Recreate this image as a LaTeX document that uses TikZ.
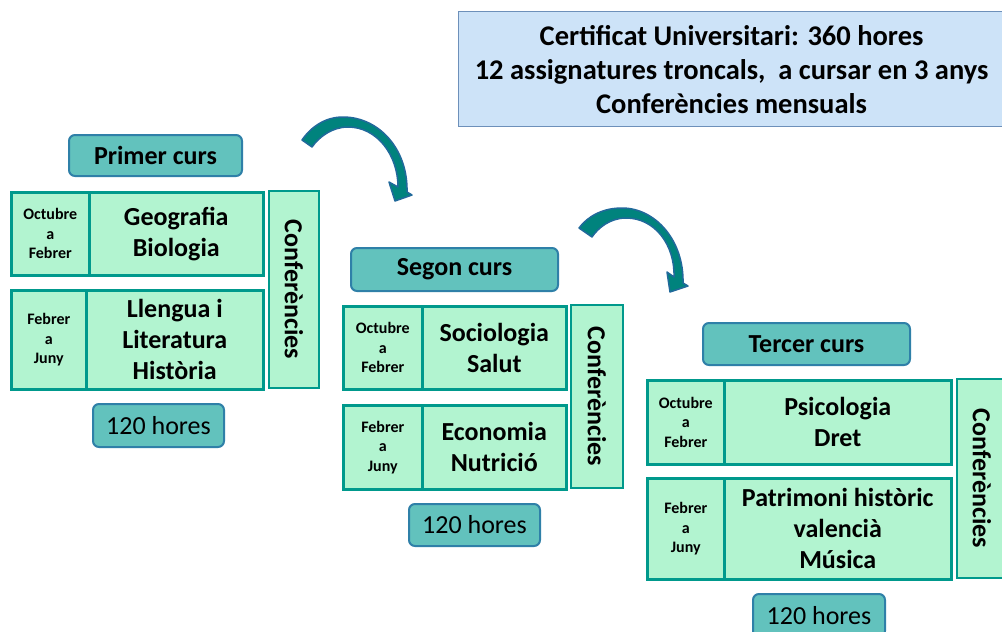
\documentclass[tikz,border=0pt]{standalone}
\usepackage{fontspec}
\setmainfont{Carlito}
\usepackage{tikz}
\usepackage{xcolor}

\definecolor{mint}{HTML}{B2F4D0}
\definecolor{mintline}{HTML}{00998C}
\definecolor{tealhead}{HTML}{62C2BD}
\definecolor{headline}{HTML}{2F80A8}
\definecolor{skyfill}{HTML}{CDE3F8}
\definecolor{skyline}{HTML}{6D90BA}
\definecolor{arrowfill}{HTML}{00837D}
\definecolor{arrowline}{HTML}{21699B}

\tikzset{
  cell/.style={draw=mintline, fill=mint, line width=2.5pt, inner sep=0pt, align=center},
  months/.style={cell, anchor=north west, font=\fontsize{16}{19.5}\selectfont\bfseries},
  subjects/.style={cell, anchor=north west, font=\fontsize{26}{31}\selectfont\bfseries},
  confbox/.style={cell, rotate=-90, font=\fontsize{26}{30}\selectfont\bfseries},
  yearhead/.style={draw=headline, fill=tealhead, line width=2pt, rounded corners=6pt, anchor=north west, font=\fontsize{26}{28}\selectfont\bfseries},
  hours/.style={yearhead, font=\fontsize{26}{28}\selectfont},
  certbox/.style={draw=skyline, fill=skyfill, line width=1.2pt, anchor=north west, align=center, font=\fontsize{28.5}{34}\selectfont\bfseries},
  turnarrow/.style={fill=arrowfill, draw=arrowline, line width=1.5pt, line join=round}
}

\begin{document}
\begin{tikzpicture}[x=1pt, y=-1pt]
  \clip (0,0) rectangle (1002,632);
  \fill[white] (0,0) rectangle (1002,632);

  % Certificate summary
  \node[certbox, minimum width=546, minimum height=115] (cert) at (458,11)
    {Certificat Universitari: 360 hores\\12 assignatures troncals, \ a cursar en 3 anys\\Conferències mensuals};

  % First year
  \node[yearhead, minimum width=173, minimum height=41] (head1) at (68,134) {Primer curs};
  \node[months, minimum width=78, minimum height=83] (oct1) at (10,191) {Octubre\\a\\Febrer};
  \node[subjects, minimum width=174, minimum height=83] (sub1a) at (88,191) {Geografia\\Biologia};
  \node[months, minimum width=75, minimum height=99] (feb1) at (10,289) {Febrer\\a\\Juny};
  \node[subjects, minimum width=177, minimum height=99] (sub1b) at (85,289) {Llengua i\\Literatura\\Història};
  \node[confbox, minimum width=197, minimum height=50] (conf1) at (294,289.5) {Conferències};
  \node[hours, minimum width=131, minimum height=43] (hours1) at (92,403) {120 hores};

  % Second year
  \node[yearhead, minimum width=207, minimum height=43] (head2) at (350,247) {Segon curs};
  \node[months, minimum width=79, minimum height=83] (oct2) at (342,305) {Octubre\\a\\Febrer};
  \node[subjects, minimum width=144, minimum height=83] (sub2a) at (421,305) {Sociologia\\Salut};
  \node[months, minimum width=79, minimum height=84] (feb2) at (342,404) {Febrer\\a\\Juny};
  \node[subjects, minimum width=144, minimum height=84] (sub2b) at (421,404) {Economia\\Nutrició};
  \node[confbox, minimum width=183, minimum height=52] (conf2) at (597,396.5) {Conferències};
  \node[hours, minimum width=131, minimum height=42] (hours2) at (408,503) {120 hores};

  % Third year
  \node[yearhead, minimum width=207, minimum height=42] (head3) at (702,322) {Tercer curs};
  \node[months, minimum width=77, minimum height=84] (oct3) at (646,379) {Octubre\\a\\Febrer};
  \node[subjects, minimum width=227, minimum height=84] (sub3a) at (723,379) {Psicologia\\Dret};
  \node[months, minimum width=77, minimum height=101] (feb3) at (646,477) {Febrer\\a\\Juny};
  \node[subjects, minimum width=227, minimum height=101] (sub3b) at (723,477) {Patrimoni històric\\valencià\\Música};
  \node[confbox, minimum width=199, minimum height=50] (conf3) at (982,478.5) {Conferències};
  \node[hours, minimum width=132, minimum height=43] (hours3) at (752,593) {120 hores};

  % Curved arrows between the years
  \draw[turnarrow] (302,140) .. controls (311,127) and (325,117) .. (343,117)
    .. controls (378,117) and (408,148) .. (407,192) -- (412,195) -- (395,201) -- (389,182) -- (398,187)
    .. controls (398,155) and (377,127) .. (348,127) .. controls (332,127) and (319,137) .. (312,147) -- cycle;
  \draw[turnarrow] (579,228) .. controls (588,216) and (603,208) .. (622,208)
    .. controls (655,208) and (684,240) .. (683,283) -- (688,286) -- (670,292) -- (667,272) -- (674,277)
    .. controls (675,245) and (655,218) .. (626,218) .. controls (610,218) and (598,228) .. (592,237) -- cycle;
\end{tikzpicture}
\end{document}
